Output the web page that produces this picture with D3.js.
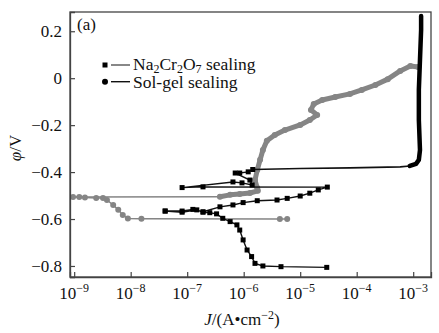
<!DOCTYPE html>
<html>
<head>
<meta charset="utf-8">
<script src="https://cdnjs.cloudflare.com/ajax/libs/d3/7.8.5/d3.min.js"></script>
<style>
body { margin: 0; background: #fff; }
svg text, svg tspan { font-family: "Liberation Serif", "DejaVu Serif", serif !important; fill: #111; }
.frame { fill: none; stroke: #444; stroke-width: 1.3; }
</style>
</head>
<body>
<svg width="439" height="333" font-family="Liberation Serif"></svg>
<script>
// polarization curves, each point is [log10 J (A/cm2), potential (V)]
var naCathodic = [
  [-4.53, -0.806], [-5.34, -0.803], [-5.66, -0.800], [-5.80, -0.789], [-5.86, -0.760],
  [-5.94, -0.732], [-6.01, -0.689], [-6.07, -0.647], [-6.12, -0.625], [-6.24, -0.611],
  [-6.37, -0.597], [-6.48, -0.578], [-6.60, -0.573], [-6.72, -0.571], [-6.83, -0.561],
  [-7.09, -0.571], [-7.39, -0.566]
];
var naAnodic = [
  [-7.39, -0.566], [-7.09, -0.566], [-6.90, -0.559], [-6.72, -0.569], [-6.42, -0.548],
  [-6.19, -0.540], [-6.01, -0.530], [-5.76, -0.522], [-5.41, -0.519], [-5.23, -0.512],
  [-5.00, -0.502], [-4.83, -0.490], [-4.68, -0.476], [-4.52, -0.464],
  [-6.72, -0.463], [-7.09, -0.466],
  [-6.19, -0.442], [-6.03, -0.446], [-5.85, -0.455], [-5.89, -0.434], [-6.15, -0.404],
  [-6.07, -0.404], [-5.92, -0.399], [-5.84, -0.389]
];
var naBreakdown = [
  [-5.84, -0.389], [-5.00, -0.385], [-4.12, -0.382], [-3.23, -0.378], [-3.06, -0.374],
  [-2.95, -0.365], [-2.90, -0.348], [-2.88, -0.306], [-2.90, -0.178], [-2.90, -0.050],
  [-2.88, 0.078], [-2.86, 0.206], [-2.86, 0.265]
];
var solCathodic = [
  [-5.23, -0.600], [-5.36, -0.600], [-7.81, -0.599], [-8.05, -0.598], [-8.14, -0.583],
  [-8.22, -0.561], [-8.31, -0.540], [-8.42, -0.519], [-8.49, -0.510], [-8.61, -0.510],
  [-8.81, -0.508], [-8.91, -0.506], [-9.02, -0.506]
];
var solAnodic = [
  [-9.02, -0.506], [-6.42, -0.505], [-6.24, -0.497], [-6.07, -0.493], [-5.89, -0.489],
  [-5.75, -0.480], [-5.76, -0.468], [-5.80, -0.434], [-5.76, -0.391], [-5.71, -0.348],
  [-5.66, -0.306], [-5.59, -0.267], [-5.45, -0.242], [-5.27, -0.221], [-5.00, -0.199],
  [-4.83, -0.178], [-4.70, -0.157], [-4.81, -0.135], [-4.76, -0.110], [-4.61, -0.093],
  [-4.38, -0.080], [-4.12, -0.067], [-3.91, -0.050], [-3.67, -0.029], [-3.45, -0.004],
  [-3.23, 0.031], [-3.05, 0.052], [-2.91, 0.048]
];
var xTicks = [-9, -8, -7, -6, -5, -4, -3];
var yTicks = [0.2, 0, -0.2, -0.4, -0.6, -0.8];

var pArea = [70, 12, 431, 277];
var grey = "#858585";
var serif = "Liberation Serif";

var x = d3.scaleLog()
  .domain([Math.pow(10, -9.074), Math.pow(10, -2.685)])
  .range([pArea[0], pArea[2]]);
var y = d3.scaleLinear()
  .domain([-0.847, 0.282])
  .range([pArea[3], pArea[1]]);

var svg = d3.select("svg");
var g = svg.append("g");

var line = d3.line()
  .x(function (d) { return x(Math.pow(10, d[0])); })
  .y(function (d) { return y(d[1]); });

// sol-gel curve (grey circles)
g.append("path").attr("d", line(solCathodic))
  .attr("fill", "none").attr("stroke", grey).attr("stroke-width", 1.5);
g.append("path").attr("d", line(solAnodic.slice(0, 2)))
  .attr("fill", "none").attr("stroke", grey).attr("stroke-width", 1.5);
g.append("path").attr("d", line(solAnodic.slice(1)))
  .attr("fill", "none").attr("stroke", grey).attr("stroke-width", 5)
  .attr("stroke-linejoin", "round").attr("stroke-linecap", "round");
g.selectAll(".solDot")
  .data(solCathodic.concat(solAnodic.slice(1)))
  .enter().append("circle")
  .attr("cx", function (d) { return x(Math.pow(10, d[0])); })
  .attr("cy", function (d) { return y(d[1]); })
  .attr("r", 3)
  .attr("fill", grey);

// Na2Cr2O7 curve (black squares)
g.append("path").attr("d", line(naCathodic.concat(naAnodic)))
  .attr("fill", "none").attr("stroke", "#111").attr("stroke-width", 1.4);
g.append("path").attr("d", line(naBreakdown.slice(0, 5)))
  .attr("fill", "none").attr("stroke", "#111").attr("stroke-width", 1.6);
g.append("path").attr("d", line(naBreakdown.slice(4)))
  .attr("fill", "none").attr("stroke", "#000").attr("stroke-width", 4.5)
  .attr("stroke-linejoin", "round").attr("stroke-linecap", "round");
g.selectAll(".naDot")
  .data(naCathodic.concat(naAnodic))
  .enter().append("rect")
  .attr("x", function (d) { return x(Math.pow(10, d[0])) - 2.5; })
  .attr("y", function (d) { return y(d[1]) - 2.5; })
  .attr("width", 5).attr("height", 5)
  .attr("fill", "#000");

// axes with inward ticks
var xAxis = g.append("g")
  .attr("transform", "translate(0," + pArea[3] + ")")
  .call(d3.axisBottom(x).tickValues(xTicks.map(function (e) { return Math.pow(10, e); }))
    .tickSize(-5).tickFormat(""));
xAxis.selectAll(".tick text").remove();
xTicks.forEach(function (e) {
  var t = g.append("text")
    .attr("x", x(Math.pow(10, e)))
    .attr("y", 299)
    .attr("text-anchor", "middle")
    .style("font-family", serif)
    .style("font-size", "17px");
  t.append("tspan").text("10");
  t.append("tspan").attr("dy", -7).style("font-size", "12px").text("\u2212" + Math.abs(e));
});

var yAxis = g.append("g")
  .attr("transform", "translate(" + pArea[0] + ",0)")
  .call(d3.axisLeft(y).tickValues(yTicks).tickSize(-5).tickPadding(8)
    .tickFormat(function (d) { return d === 0 ? "0" : d3.format(".1f")(d).replace("-", "\u2212"); }));
yAxis.attr("font-family", serif).attr("font-size", 17);
yAxis.selectAll("text").style("font-family", serif).style("font-size", "17px").attr("fill", "#111");

g.selectAll(".domain").attr("stroke", "#444").attr("stroke-width", 1.3);
g.selectAll(".tick line").attr("stroke", "#444").attr("stroke-width", 1.2);

g.append("rect").attr("class", "frame")
  .attr("x", pArea[0]).attr("y", pArea[1])
  .attr("width", pArea[2] - pArea[0]).attr("height", pArea[3] - pArea[1]);

// titles
g.append("text").attr("x", 77).attr("y", 30)
  .style("font-family", serif).style("font-size", "17px").text("(a)");

var xt = g.append("text")
  .attr("x", 242).attr("y", 325)
  .attr("text-anchor", "middle")
  .style("font-family", serif)
  .style("font-size", "17px");
xt.append("tspan").style("font-style", "italic").text("J");
xt.append("tspan").text("/(A\u2022cm");
xt.append("tspan").attr("dy", -6).style("font-size", "12px").text("\u22122");
xt.append("tspan").attr("dy", 6).text(")");

var yt = g.append("text")
  .attr("transform", "translate(21,148) rotate(-90)")
  .attr("text-anchor", "middle")
  .style("font-family", serif)
  .style("font-size", "17px");
yt.append("tspan").style("font-style", "italic").text("\u03c6");
yt.append("tspan").text("/V");

// legend
var legend = g.append("g").attr("transform", "translate(105,65)");
legend.append("rect").attr("x", -2.5).attr("y", -2.5).attr("width", 5).attr("height", 5).attr("fill", "#000");
legend.append("line").attr("x1", 6).attr("x2", 25).attr("y1", 0).attr("y2", 0)
  .attr("stroke", "#555").attr("stroke-width", 1.4);
var l1 = legend.append("text").attr("x", 28).attr("y", 5)
  .style("font-family", serif).style("font-size", "17.5px");
l1.append("tspan").text("Na");
l1.append("tspan").attr("dy", 3).style("font-size", "12px").text("2");
l1.append("tspan").attr("dy", -3).text("Cr");
l1.append("tspan").attr("dy", 3).style("font-size", "12px").text("2");
l1.append("tspan").attr("dy", -3).text("O");
l1.append("tspan").attr("dy", 3).style("font-size", "12px").text("7");
l1.append("tspan").attr("dy", -3).text(" sealing");

legend.append("circle").attr("cx", 0).attr("cy", 16.7).attr("r", 3).attr("fill", "#000");
legend.append("line").attr("x1", 6).attr("x2", 25).attr("y1", 16.7).attr("y2", 16.7)
  .attr("stroke", "#111").attr("stroke-width", 1.4);
legend.append("text").attr("x", 28).attr("y", 22.5)
  .style("font-family", serif).style("font-size", "17.5px").text("Sol-gel sealing");
</script>
</body>
</html>
